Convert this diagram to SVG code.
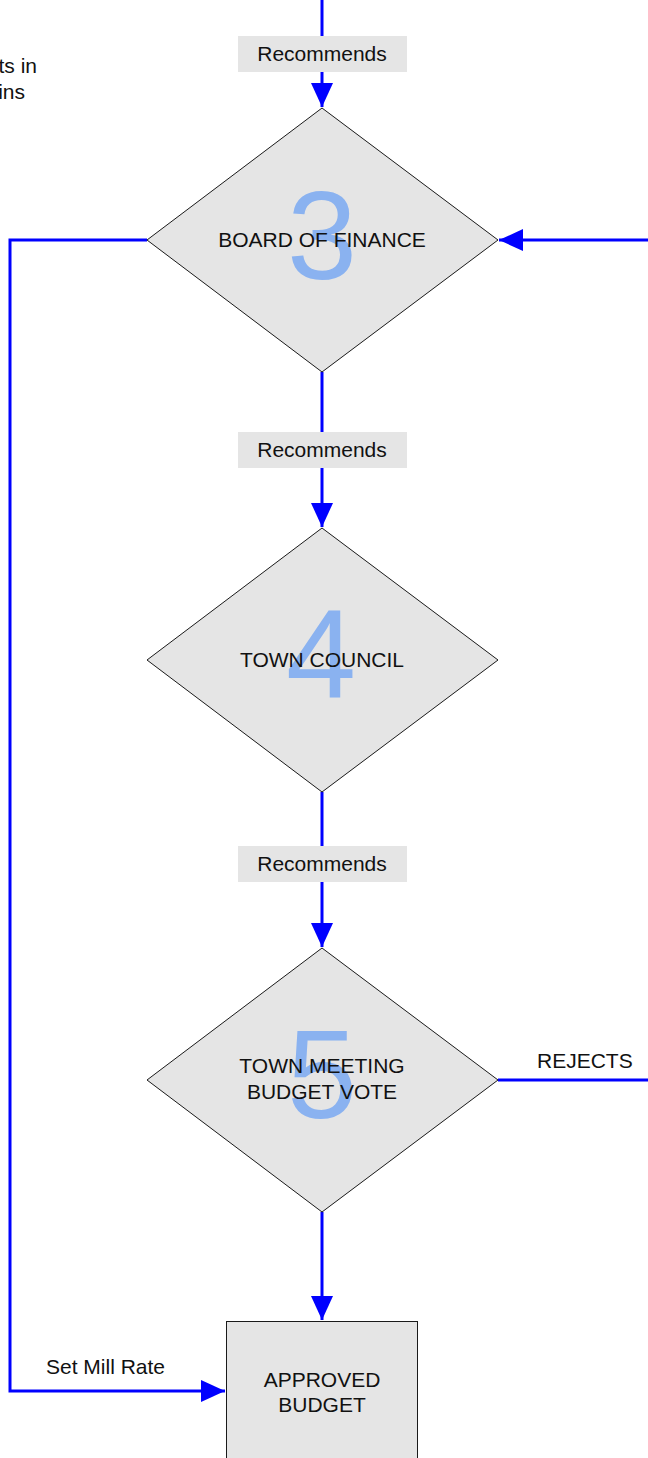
<svg xmlns="http://www.w3.org/2000/svg" width="648" height="1458" viewBox="0 0 648 1458">
<style>
.shape{fill:#e5e5e5;stroke:#1a1a1a;stroke-width:1}
.lbl{font-family:"Liberation Sans",Arial,sans-serif;font-size:21px;fill:#111}
.num{font-family:"Liberation Sans",Arial,sans-serif;font-size:126px;fill:#8ab2f0;text-anchor:middle}
.c{text-anchor:middle}
.edge{fill:none;stroke:#0000ff;stroke-width:3}
.tag{fill:#e5e5e5}
</style>
<defs>
<marker id="arr" markerUnits="userSpaceOnUse" markerWidth="24" markerHeight="24" viewBox="0 0 24 24" refX="24" refY="12" orient="auto">
<path d="M0,1 L24,12 L0,23 Z" fill="#0000ff"/>
</marker>
</defs>
<text class="lbl" x="37" y="73" text-anchor="end">ts in</text>
<text class="lbl" x="25" y="99" text-anchor="end">ins</text>
<g id="connectors">
<path class="edge" d="M322,0 V107" marker-end="url(#arr)"/>
<rect class="tag" x="238" y="36" width="169" height="36"/>
<text class="lbl c" x="322" y="61">Recommends</text>
<path class="edge" d="M322,372 V527" marker-end="url(#arr)"/>
<rect class="tag" x="238" y="432" width="169" height="36"/>
<text class="lbl c" x="322" y="457">Recommends</text>
<path class="edge" d="M322,792 V947" marker-end="url(#arr)"/>
<rect class="tag" x="238" y="846" width="169" height="36"/>
<text class="lbl c" x="322" y="871">Recommends</text>
<path class="edge" d="M322,1212 V1320" marker-end="url(#arr)"/>
<path class="edge" d="M648,240 H499" marker-end="url(#arr)"/>
<path class="edge" d="M147,240 H10 V1391 H225" marker-end="url(#arr)"/>
<text class="lbl" x="46" y="1374">Set Mill Rate</text>
<path class="edge" d="M498,1080 H648"/>
<text class="lbl" x="537" y="1068">REJECTS</text>
</g>
<g id="board-of-finance">
<polygon class="shape" points="322,108 498,240 322,372 147,240"/>
<text class="num" x="322" y="279">3</text>
<text class="lbl c" x="322" y="247">BOARD OF FINANCE</text>
</g>
<g id="town-council">
<polygon class="shape" points="322,528 498,660 322,792 147,660"/>
<text class="num" x="321" y="698">4</text>
<text class="lbl c" x="322" y="667">TOWN COUNCIL</text>
</g>
<g id="town-meeting">
<polygon class="shape" points="322,948 498,1080 322,1212 147,1080"/>
<text class="num" x="322" y="1118">5</text>
<text class="lbl c" x="322" y="1073">TOWN MEETING</text>
<text class="lbl c" x="322" y="1099">BUDGET VOTE</text>
</g>
<g id="approved-budget">
<rect class="shape" x="226.5" y="1321.5" width="191" height="140"/>
<text class="lbl c" x="322" y="1387">APPROVED</text>
<text class="lbl c" x="322" y="1412">BUDGET</text>
</g>
</svg>
